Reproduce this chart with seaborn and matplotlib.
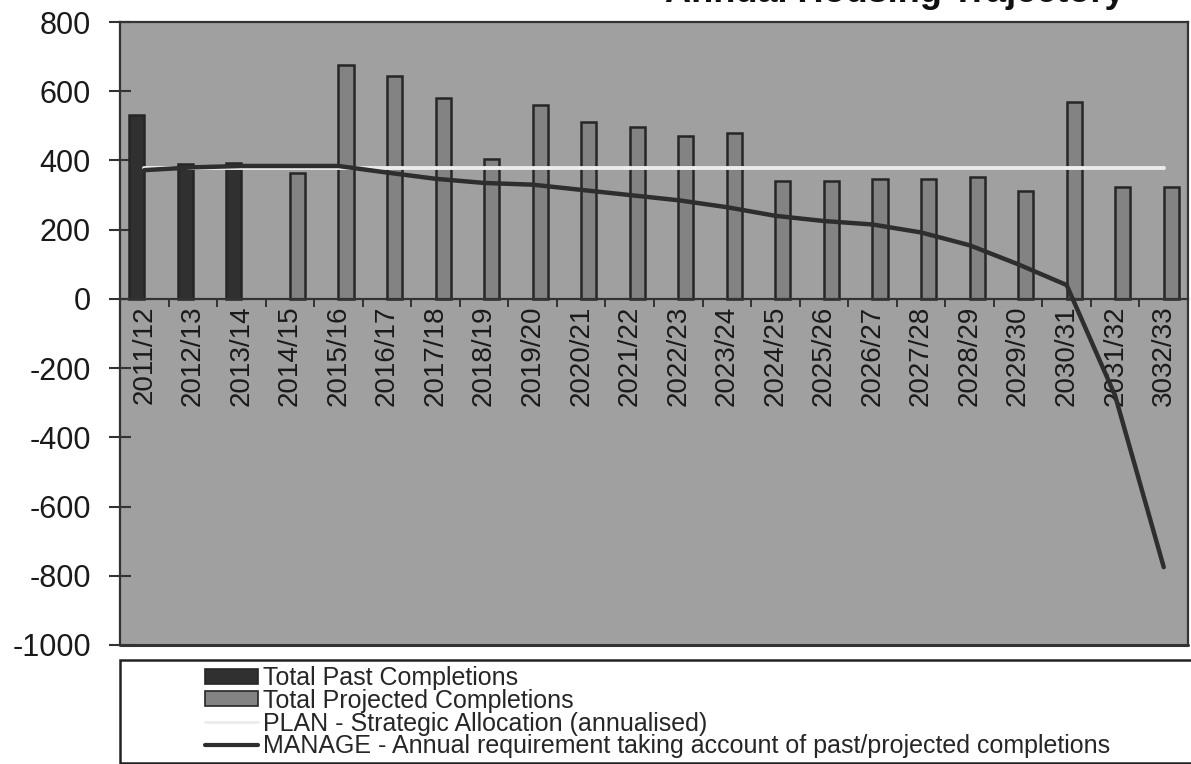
import numpy as np
import pandas as pd
import seaborn as sns
import matplotlib.pyplot as plt
from matplotlib.patches import Patch, Rectangle
from matplotlib.lines import Line2D

# Data
years = ["2011/12", "2012/13", "2013/14", "2014/15", "2015/16", "2016/17", "2017/18",
         "2018/19", "2019/20", "2020/21", "2021/22", "2022/23", "2023/24", "2024/25",
         "2025/26", "2026/27", "2027/28", "2028/29", "2029/30", "2030/31", "2031/32",
         "3032/33"]
past_years = ["2011/12", "2012/13", "2013/14"]
past_completions = [530, 390, 392]
projected_years = years[3:]
projected_completions = [365, 675, 645, 580, 405, 560, 512, 497, 472, 480, 342, 342,
                         347, 347, 352, 312, 570, 324, 324]
plan_allocation = 378
manage_requirement = [372, 380, 384, 384, 384, 365, 347, 335, 330, 315, 300, 285, 265,
                      240, 225, 215, 192, 155, 100, 40, -280, -775]

series_names = ["Total Past Completions", "Total Projected Completions"]
plan_label = "PLAN - Strategic Allocation (annualised)"
manage_label = "MANAGE - Annual requirement taking account of past/projected completions"

bars = pd.concat([
    pd.DataFrame({"year": past_years, "completions": past_completions, "series": series_names[0]}),
    pd.DataFrame({"year": projected_years, "completions": projected_completions, "series": series_names[1]}),
])

sns.set_style("white")
plt.rcParams["font.family"] = ["Liberation Sans", "DejaVu Sans"]
plt.rcParams["axes.unicode_minus"] = False

past_col = "#303030"
proj_col = "#838383"
plan_col = "#ececec"
manage_col = "#2e2e2e"
edge_col = "#262626"

fig = plt.figure(figsize=(11.91, 7.64), dpi=100)
ax = fig.add_axes([120 / 1191, 1 - 645 / 764, 1068 / 1191, 623 / 764])
ax.set_facecolor("#a0a0a0")

sns.barplot(data=bars, x="year", y="completions", hue="series", order=years,
            hue_order=series_names, palette=[past_col, proj_col], width=0.62, dodge=True,
            edgecolor=edge_col, linewidth=1.8, legend=False, ax=ax, zorder=2)

xpos = np.arange(len(years))
sns.lineplot(x=xpos, y=np.full(len(years), plan_allocation), color=plan_col,
             linewidth=2.8, ax=ax, zorder=3)
sns.lineplot(x=xpos, y=manage_requirement, color=manage_col, linewidth=3.2, ax=ax, zorder=4)

ax.set_xlim(-0.5, len(years) - 0.5)
ax.set_ylim(-1000, 800)
ax.set_yticks(np.arange(-1000, 801, 200))
ax.set_xlabel("")
ax.set_ylabel("")

# x axis sits on the zero line, labels run down inside the plot
ax.spines["bottom"].set_position(("data", 0))
for s in ["bottom", "left", "top", "right"]:
    ax.spines[s].set_color("#333333")
    ax.spines[s].set_linewidth(1.6)
ax.plot([0, 1], [0, 0], transform=ax.transAxes, color="#333333", lw=2.2, clip_on=False, zorder=5)

ax.set_xticks(xpos)
ax.set_xticklabels(years, rotation=90, fontsize=20, color="#1a1a1a")
ax.set_xticks(xpos[:-1] + 0.5, minor=True)
ax.tick_params(axis="x", which="major", length=0, pad=5, bottom=True)
ax.tick_params(axis="x", which="minor", length=6, width=1.4, color="#333333",
               direction="out", bottom=True)
for lbl in ax.get_xticklabels():
    lbl.set_verticalalignment("top")

ax.tick_params(axis="y", which="major", length=16, width=1.5, direction="inout",
               color="#333333", labelsize=22, labelcolor="#1a1a1a", pad=13, left=True)

# title, mostly cut off at the top edge of the picture (as in the source image)
fig.text(1125 / 1191, 1 - 1.5 / 764, "Annual Housing Trajectory", ha="right", va="baseline",
         fontsize=26, fontweight="bold", color="#111111")

# legend box
fig.patches.append(Rectangle((120 / 1191, 1 - 763 / 764), 1080 / 1191, 103 / 764,
                             transform=fig.transFigure, facecolor="white",
                             edgecolor="#222222", linewidth=1.8, zorder=0))
handles = [
    Patch(facecolor=past_col, edgecolor=edge_col, linewidth=1.2),
    Patch(facecolor=proj_col, edgecolor=edge_col, linewidth=1.2),
    Line2D([], [], color=plan_col, linewidth=2),
    Line2D([], [], color=manage_col, linewidth=3),
]
fig.legend(handles, series_names + [plan_label, manage_label], loc="upper left",
           bbox_to_anchor=(205 / 1191, 1 - 666 / 764), frameon=False, fontsize=18,
           handlelength=2.1, handleheight=0.55, handletextpad=0.2, labelspacing=-0.05,
           borderpad=0, borderaxespad=0)

fig.savefig("out.png", dpi=100, facecolor="white")
